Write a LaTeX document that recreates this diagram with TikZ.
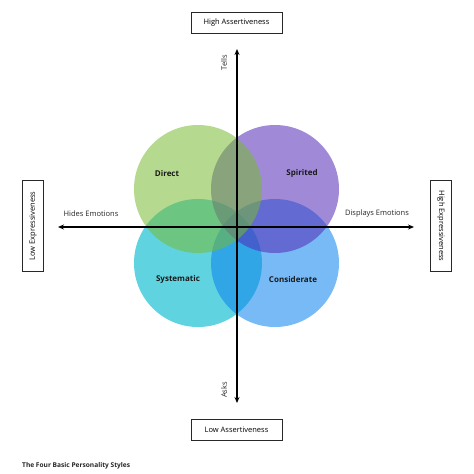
\documentclass[tikz,border=0pt]{standalone}
\usepackage{fontspec}
\setmainfont{Open Sans}
\usetikzlibrary{arrows.meta}
\definecolor{directgreen}{RGB}{119,186,51}
\definecolor{spiritpurple}{RGB}{82,42,184}
\definecolor{systemcyan}{RGB}{96,211,224}
\definecolor{considerblue}{RGB}{10,130,237}
\definecolor{boxline}{RGB}{40,40,40}
\tikzset{
  axislabel/.style={inner sep=0.75pt, font=\fontsize{7.5}{8}\selectfont, text=black!85},
  scalebox/.style={draw=boxline, line width=0.9pt, minimum width=91pt, minimum height=21pt, inner sep=1pt, font=\fontsize{7.5}{8}\selectfont},
  stylename/.style={inner sep=0.75pt, font=\fontsize{8}{9}\selectfont\bfseries, text=black!90},
  axis/.style={line width=1.2pt, {Stealth[length=6pt,width=5pt]}-{Stealth[length=6pt,width=5pt]}}
}
\begin{document}
\begin{tikzpicture}[x=1pt,y=1pt,yscale=-1,xscale=1]
\useasboundingbox (0,0) rectangle (474,474);

%Circles
\fill [systemcyan] (198,263) circle (64);
\fill [considerblue, fill opacity=0.55] (275,263) circle (64);
\fill [spiritpurple, fill opacity=0.55] (275,189) circle (64);
\fill [directgreen, fill opacity=0.55] (198,189) circle (64);

%Axes
\coordinate (top) at (237,49);
\coordinate (bottom) at (237,403);
\coordinate (left) at (58,227);
\coordinate (right) at (414,227);
\draw [axis] (bottom) -- (top);
\draw [axis] (left) -- (right);

%Boxes
\node (high) [scalebox] at (236.5,22.5) {High Assertiveness};
\node (low) [scalebox] at (236.5,430) {Low Assertiveness};
\node (lowexp) [scalebox, rotate=90] at (33,226) {Low Expressiveness};
\node (highexp) [scalebox, rotate=-90] at (441,226) {High Expressiveness};

% Text Node
\node (tells) [axislabel, rotate=90] at (224,63) {Tells};
% Text Node
\node (asks) [axislabel, rotate=90] at (224,390) {Asks};
% Text Node
\node (hides) [axislabel] at (91,214) {Hides Emotions};
% Text Node
\node (displays) [axislabel] at (377,214) {Displays Emotions};

% Text Node
\node (direct) [stylename] at (167,173) {Direct};
% Text Node
\node (spirited) [stylename] at (302,173) {Spirited};
% Text Node
\node (systematic) [stylename] at (178,279) {Systematic};
% Text Node
\node (considerate) [stylename] at (293,279) {Considerate};

% Text Node
\node (title) [anchor=west, inner sep=0pt, font=\fontsize{6.6}{8}\selectfont\bfseries, text=black!85] at (22,466) {The Four Basic Personality Styles};
\end{tikzpicture}
\end{document}
